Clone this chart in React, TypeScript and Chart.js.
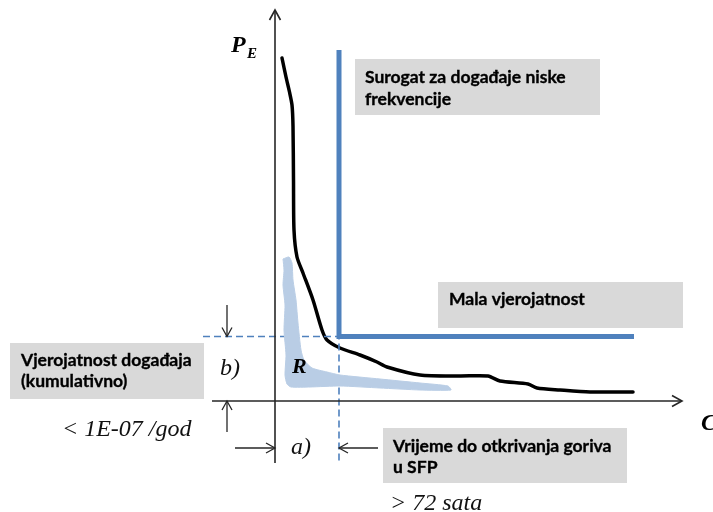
import React, { useEffect, useRef } from "react";
import { Chart, registerables } from "chart.js";

Chart.register(...registerables);

// Consequence (C) vs. probability (P_E) curve, relative units
const curveC = [0.7, 1.1, 1.45, 1.7, 1.8, 1.85, 1.9, 2.2, 2.8, 3.8, 4.7, 5.2, 6.5, 8.5, 10.2, 11.2, 14.5, 18.5, 21.3, 22.5, 25.3, 26.2, 28.5, 31.5, 35.8];
const curveP = [34.3, 32.4, 30.9, 29.6, 27.5, 22.1, 17.1, 14.4, 12.8, 10.1, 7.1, 6.1, 5.3, 4.6, 3.9, 3.4, 2.6, 2.5, 2.5, 2.0, 1.7, 1.3, 1.1, 0.9, 0.9];

// Region R (acceptable region) outline
const regionC = [0.8, 1.4, 1.7, 1.8, 2.1, 2.3, 2.6, 2.9, 3.7, 5.2, 6.5, 10.5, 14.5, 17.3, 17.6, 14.5, 10.5, 6.5, 3.5, 1.6, 1.2, 1.0, 1.1, 0.9, 1.0, 0.8, 0.9, 0.8];
const regionP = [14.2, 14.4, 13.8, 12.1, 10.1, 7.8, 5.1, 4.1, 3.3, 2.9, 2.6, 2.2, 1.8, 1.5, 1.1, 1.1, 1.3, 1.5, 1.4, 1.4, 1.7, 2.6, 4.6, 7.1, 9.6, 11.6, 13.1, 14.2];

// Limits: a) time to fuel uncovery, b) cumulative event probability
const limitC = 6.4;
const limitP = 6.45;
const surrogateTopP = 35.1;
const lowProbEndC = 35.9;
const dashedStartC = -7.2;
const dashedEndP = -6.0;

// Axis extents
const axisCRange = [-6.3, 40.7];
const axisPRange = [-6.2, 39.1];

// Texts
const boxTexts = [
  ["Surogat za događaje niske", "frekvencije"],
  ["Mala vjerojatnost"],
  ["Vjerojatnost događaja", "(kumulativno)"],
  ["Vrijeme do otkrivanja goriva", "u SFP"],
];
const italicTexts = ["< 1E-07 /god", "b)", "a)", "> 72 sata"];
const axisTitleY = ["P", "E"];
const axisTitleX = "C";
const regionLabel = "R";

const toPts = (xs: number[], ys: number[]) => xs.map((x, i) => ({ x, y: ys[i] }));

const BLUE = "#4F81BD";
const AXIS = "#262626";
const GRAY_BOX = "#D9D9D9";

// layout (pixel) for boxes and labels
const boxLayout = [
  { x: 355, y: 59, w: 245, h: 56, tx: 365, lines: [83, 105] },
  { x: 438, y: 282, w: 245, h: 46, tx: 449, lines: [305] },
  { x: 10, y: 343, w: 194, h: 56, tx: 21, lines: [366, 387] },
  { x: 383, y: 428, w: 244, h: 55, tx: 393, lines: [452, 473] },
];
const italicLayout = [
  { x: 62, y: 436 },
  { x: 220, y: 375 },
  { x: 291, y: 454 },
  { x: 390, y: 510 },
];

function arrow(ctx: CanvasRenderingContext2D, x0: number, y0: number, x1: number, y1: number, len: number, half: number) {
  const ang = Math.atan2(y1 - y0, x1 - x0);
  ctx.beginPath();
  ctx.moveTo(x0, y0);
  ctx.lineTo(x1, y1);
  ctx.stroke();
  ctx.beginPath();
  const bx = x1 - len * Math.cos(ang);
  const by = y1 - len * Math.sin(ang);
  const nx = -Math.sin(ang) * half;
  const ny = Math.cos(ang) * half;
  ctx.moveTo(bx + nx, by + ny);
  ctx.lineTo(x1, y1);
  ctx.lineTo(bx - nx, by - ny);
  ctx.stroke();
}

const diagramPlugin = {
  id: "diagramPlugin",
  beforeDatasetsDraw(chart: any) {
    const ctx = chart.ctx as CanvasRenderingContext2D;
    ctx.save();
    ctx.fillStyle = GRAY_BOX;
    boxLayout.forEach((b) => ctx.fillRect(b.x, b.y, b.w, b.h));
    ctx.restore();
  },
  afterDatasetsDraw(chart: any) {
    const ctx = chart.ctx as CanvasRenderingContext2D;
    const xs = chart.scales.x;
    const ys = chart.scales.y;
    const px = (v: number) => xs.getPixelForValue(v);
    const py = (v: number) => ys.getPixelForValue(v);
    ctx.save();
    ctx.strokeStyle = AXIS;
    ctx.lineWidth = 1.6;
    ctx.lineCap = "butt";
    // axes with arrows
    arrow(ctx, px(axisCRange[0]), py(0), px(axisCRange[1]), py(0), 10, 5.5);
    arrow(ctx, px(0), py(axisPRange[0]), px(0), py(axisPRange[1]), 10, 5.5);
    // dimension arrows
    ctx.lineWidth = 1.3;
    arrow(ctx, px(-4.8), py(9.6), px(-4.8), py(limitP), 9, 5);
    arrow(ctx, px(-4.8), py(-3.1), px(-4.8), py(0), 9, 5);
    arrow(ctx, px(-4.0), py(-4.7), px(0), py(-4.7), 9, 5);
    arrow(ctx, px(10.3), py(-4.7), px(limitC), py(-4.7), 9, 5);

    // box texts
    ctx.fillStyle = "#000";
    ctx.font = "bold 17.5px Lato";
    ctx.textBaseline = "alphabetic";
    ctx.textAlign = "left";
    ctx.strokeStyle = "#000";
    ctx.lineWidth = 0.35;
    boxLayout.forEach((b, i) => {
      boxTexts[i].forEach((t, j) => {
        ctx.fillText(t, b.tx, b.lines[j]);
        ctx.strokeText(t, b.tx, b.lines[j]);
      });
    });

    // italic serif texts
    ctx.fillStyle = "#111";
    ctx.font = "italic 24px 'Liberation Serif'";
    italicLayout.forEach((p, i) => ctx.fillText(italicTexts[i], p.x, p.y));

    // axis titles
    ctx.fillStyle = "#000";
    ctx.font = "bold italic 24px 'Liberation Serif'";
    ctx.fillText(axisTitleY[0], 231, 52);
    ctx.font = "bold italic 15px 'Liberation Serif'";
    ctx.fillText(axisTitleY[1], 247, 58);
    ctx.font = "bold italic 24px 'Liberation Serif'";
    ctx.fillText(axisTitleX, 701, 430);
    ctx.font = "bold italic 22px 'Liberation Serif'";
    ctx.fillText(regionLabel, 292, 373);
    ctx.restore();
  },
};

export default function App() {
  const ref = useRef<HTMLCanvasElement | null>(null);
  useEffect(() => {
    if (!ref.current) return;
    const chart = new Chart(ref.current, {
      type: "scatter",
      data: {
        datasets: [
          {
            label: "R",
            data: toPts(regionC, regionP),
            showLine: true,
            fill: "shape" as any,
            backgroundColor: "#B9CDE5",
            borderColor: "#B9CDE5",
            borderWidth: 1,
            pointRadius: 0,
            tension: 0.2,
          },
          {
            label: "dashed P",
            data: [
              { x: dashedStartC, y: limitP },
              { x: limitC, y: limitP },
              { x: limitC, y: dashedEndP },
            ],
            showLine: true,
            borderColor: BLUE,
            borderWidth: 1.6,
            borderDash: [7, 4],
            pointRadius: 0,
          },
          {
            label: "limits",
            data: [
              { x: limitC, y: surrogateTopP },
              { x: limitC, y: limitP },
              { x: lowProbEndC, y: limitP },
            ],
            showLine: true,
            borderColor: BLUE,
            borderWidth: 5,
            borderJoinStyle: "miter",
            borderCapStyle: "butt",
            pointRadius: 0,
          },
          {
            label: "curve",
            data: toPts(curveC, curveP),
            showLine: true,
            borderColor: "#000",
            borderWidth: 3.5,
            borderJoinStyle: "round",
            borderCapStyle: "round",
            pointRadius: 0,
            tension: 0.25,
          },
        ],
      },
      options: {
        animation: false,
        responsive: false,
        maintainAspectRatio: false,
        layout: { padding: 0 },
        plugins: { legend: { display: false }, tooltip: { enabled: false } },
        scales: {
          x: { type: "linear", min: -27.5, max: 43.8, display: false },
          y: { type: "linear", min: -11.1, max: 40.1, display: false },
        },
      },
      plugins: [diagramPlugin],
    });
    return () => chart.destroy();
  }, []);
  return (
    <div style={{ position: "fixed", left: 0, top: 0, width: 713, height: 512, background: "#fff" }}>
      <canvas ref={ref} width={713} height={512} style={{ width: 713, height: 512, display: "block" }} />
    </div>
  );
}
